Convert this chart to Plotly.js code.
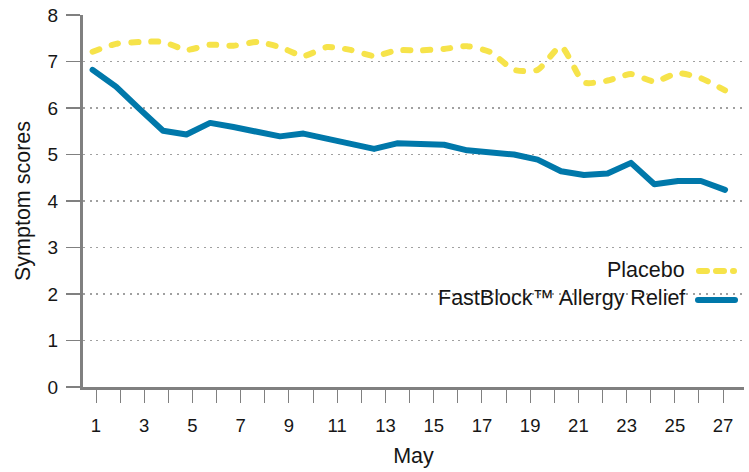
<!DOCTYPE html>
<html>
<head>
<meta charset="utf-8">
<script src="https://cdn.plot.ly/plotly-3.0.1.min.js"></script>
<style>
  html, body { margin: 0; padding: 0; background: #ffffff; }
  #chart { width: 749px; height: 472px; }
</style>
</head>
<body>
<div id="chart"></div>
<script>
// Measurement days (position along the May axis)
var days = [0.86, 1.83, 2.80, 3.78, 4.75, 5.73, 6.70, 7.68, 8.63, 9.60,
            10.58, 11.55, 12.53, 13.48, 14.45, 15.43, 16.39, 17.36, 18.33, 19.31,
            20.28, 21.23, 22.21, 23.18, 24.15, 25.13, 26.08, 27.08];

var placeboName = "Placebo";
var placeboScores = [7.21, 7.38, 7.42, 7.42, 7.25, 7.36, 7.34, 7.42, 7.31, 7.12,
                     7.31, 7.25, 7.12, 7.24, 7.24, 7.27, 7.33, 7.20, 6.82, 6.82,
                     7.32, 6.55, 6.59, 6.73, 6.57, 6.75, 6.64, 6.38];

var fastBlockName = "FastBlock™ Allergy Relief";
var fastBlockScores = [6.82, 6.46, 5.98, 5.51, 5.43, 5.68, 5.59, 5.50, 5.39, 5.45,
                       5.34, 5.26, 5.12, 5.24, 5.24, 5.21, 5.09, 5.05, 5.00, 4.89,
                       4.64, 4.56, 4.59, 4.82, 4.36, 4.43, 4.43, 4.24];

var xTickVals = [1,2,3,4,5,6,7,8,9,10,11,12,13,14,15,16,17,18,19,20,21,22,23,24,25,26,27];
var xTickLabels = ["1","","3","","5","","7","","9","","11","","13","","15","","17","","19","","21","","23","","25","","27"];
var yTickVals = [0,1,2,3,4,5,6,7,8];

var xTitle = "May";
var yTitle = "Symptom scores";

var FONT = "'Liberation Sans', Arial, sans-serif";
var TEXT = "#161616";
var AXIS = "#808080";
var BLUE = "#0078AA";
var YELLOW = "#F6E34A";

var traces = [
  {
    x: days, y: placeboScores, name: placeboName, type: "scatter", mode: "lines",
    line: { color: YELLOW, width: 6, dash: "7px,13px", shape: "spline", smoothing: 0.6 },
    hoverinfo: "skip"
  },
  {
    x: days, y: fastBlockScores, name: fastBlockName, type: "scatter", mode: "lines",
    line: { color: BLUE, width: 6 },
    hoverinfo: "skip"
  }
];

// plot area in pixels: left 83, right 744, top 15, bottom 387
function px(xpix) { return (xpix - 83) / (744 - 83); }
function py(ypix) { return (387 - ypix) / (387 - 15); }

var layout = {
  width: 749, height: 472,
  margin: { l: 83, r: 5, t: 15, b: 85 },
  paper_bgcolor: "#ffffff", plot_bgcolor: "#ffffff",
  showlegend: false,
  font: { family: FONT, color: TEXT, size: 18 },
  xaxis: {
    range: [0.461, 27.866],
    tickmode: "array", tickvals: xTickVals, ticktext: xTickLabels,
    ticks: "outside", ticklen: 13, tickwidth: 1, tickcolor: AXIS,
    showline: true, linecolor: AXIS, linewidth: 3,
    showgrid: false, zeroline: false,
    tickfont: { family: FONT, size: 18.5, color: TEXT },
    ticklabelstandoff: 7,
    title: { text: xTitle, font: { family: FONT, size: 21.5, color: TEXT }, standoff: 13 }
  },
  yaxis: {
    range: [0, 8],
    tickmode: "array", tickvals: yTickVals,
    ticks: "outside", ticklen: 14, tickwidth: 1.5, tickcolor: AXIS,
    showline: true, linecolor: AXIS, linewidth: 3,
    showgrid: true, gridcolor: "#a0a0a0", gridwidth: 1.5, griddash: "2px,4.7px",
    zeroline: false,
    tickfont: { family: FONT, size: 19, color: TEXT },
    ticklabelstandoff: 4,
    title: { text: yTitle, font: { family: FONT, size: 21.5, color: TEXT }, standoff: 12 }
  },
  annotations: [
    { xref: "paper", yref: "paper", x: px(687), y: py(270), xanchor: "right", yanchor: "middle",
      text: placeboName, showarrow: false, font: { family: FONT, size: 21.5, color: TEXT } },
    { xref: "paper", yref: "paper", x: px(687), y: py(298), xanchor: "right", yanchor: "middle",
      text: fastBlockName, showarrow: false, font: { family: FONT, size: 21.5, color: TEXT } }
  ],
  shapes: [
    { type: "line", xref: "paper", yref: "paper", x0: px(699), x1: px(734), y0: py(271), y1: py(271),
      line: { color: YELLOW, width: 6, dash: "8px,9px" } },
    { type: "line", xref: "paper", yref: "paper", x0: px(698), x1: px(735), y0: py(300), y1: py(300),
      line: { color: BLUE, width: 6 } }
  ]
};

Plotly.newPlot("chart", traces, layout, { displayModeBar: false, staticPlot: true }).then(function () {
  document.querySelectorAll(".scatterlayer path.js-line, .shapelayer path").forEach(function (p) {
    p.style.strokeLinecap = "round";
    p.style.strokeLinejoin = "round";
  });
});
</script>
</body>
</html>
